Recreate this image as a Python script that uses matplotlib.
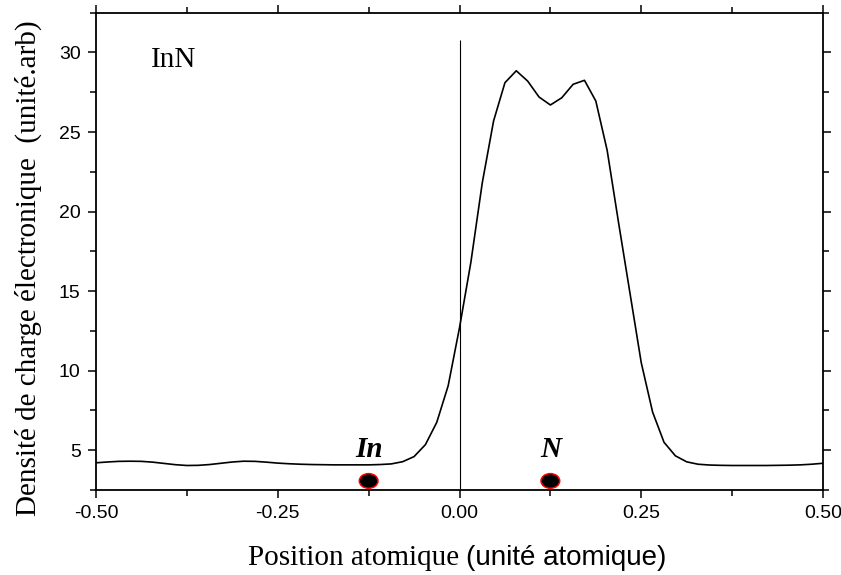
import matplotlib.pyplot as plt
from matplotlib.patches import Ellipse

# positions atomiques (pas de 1/64)
position = [-0.5, -0.4844, -0.4688, -0.4531, -0.4375, -0.4219, -0.4063, -0.3906,
            -0.375, -0.3594, -0.3438, -0.3281, -0.3125, -0.2969, -0.2813, -0.2656,
            -0.25, -0.2344, -0.2188, -0.2031, -0.1875, -0.1719, -0.1563, -0.1406,
            -0.125, -0.1094, -0.0938, -0.0781, -0.0625, -0.0469, -0.0313, -0.0156,
            0.0, 0.0156, 0.0313, 0.0469, 0.0625, 0.0781, 0.0938, 0.1094,
            0.125, 0.1406, 0.1563, 0.1719, 0.1875, 0.2031, 0.2188, 0.2344,
            0.25, 0.2656, 0.2813, 0.2969, 0.3125, 0.3281, 0.3438, 0.3594,
            0.375, 0.3906, 0.4063, 0.4219, 0.4375, 0.4531, 0.4688, 0.4844, 0.5]

densite = [4.21, 4.26, 4.30, 4.31, 4.30, 4.25, 4.17, 4.09,
           4.04, 4.05, 4.10, 4.18, 4.26, 4.31, 4.30, 4.25,
           4.19, 4.15, 4.12, 4.10, 4.09, 4.08, 4.08, 4.08,
           4.08, 4.10, 4.14, 4.28, 4.60, 5.35, 6.75, 9.05,
           12.7, 16.8, 21.8, 25.7, 28.1, 28.85, 28.2, 27.2,
           26.7, 27.15, 28.0, 28.25, 26.95, 23.85, 19.3, 14.9,
           10.5, 7.4, 5.5, 4.65, 4.27, 4.12, 4.07, 4.05,
           4.04, 4.04, 4.04, 4.04, 4.05, 4.06, 4.08, 4.12, 4.18]

atomes = ["In", "N"]
pos_atomes = [-0.125, 0.125]

serif = "Liberation Serif"
sans = "Liberation Sans"

fig = plt.figure(figsize=(8.41, 5.75), dpi=100)
ax = fig.add_axes([96 / 841, 1 - 490 / 575, 727 / 841, 477.3 / 575])

ax.plot(position, densite, color="black", linewidth=1.2)
ax.vlines(0, 2.55, 30.8, color="black", linewidth=0.8)

for nom, xa in zip(atomes, pos_atomes):
    ax.add_patch(Ellipse((xa, 3.07), 0.0257, 0.92, facecolor="black",
                         edgecolor="red", linewidth=1.1, zorder=3))
    ax.text(xa, 4.6, nom, ha="center", va="baseline", fontsize=21,
            family=serif, fontweight="bold", fontstyle="italic")

ax.text(-0.425, 29.08, "InN", ha="left", va="baseline", fontsize=21, family=serif)

ax.set_xlim(-0.5, 0.5)
ax.set_ylim(2.55, 32.5)
ax.set_xticks([-0.5, -0.25, 0, 0.25, 0.5])
ax.set_xticklabels(["-0.50", "-0.25", "0.00", "0.25", "0.50"])
ax.set_xticks([-0.375, -0.125, 0.125, 0.375], minor=True)
ax.set_yticks([5, 10, 15, 20, 25, 30])
ax.set_yticks([2.5, 7.5, 12.5, 17.5, 22.5, 27.5, 32.5], minor=True)

ax.tick_params(which="both", direction="out", top=True, right=True,
               width=1.1, labelsize=14, pad=5)
ax.tick_params(which="major", length=6)
ax.tick_params(which="minor", length=4)
for lab in ax.get_xticklabels() + ax.get_yticklabels():
    lab.set_family(sans)
for sp in ax.spines.values():
    sp.set_linewidth(1.3)

fig.text(28 / 841, 1 - 268 / 575, "Densité de charge électronique  (unité.arb)",
         rotation=90, ha="center", va="center", fontsize=21, family=serif)

t1 = fig.text(248 / 841, 1 - 565 / 575, "Position atomique ", ha="left",
              va="baseline", fontsize=21, family=serif)
fig.canvas.draw()
bb = t1.get_window_extent()
fig.text(bb.x1 / 841, 1 - 565 / 575, "(unité atomique)", ha="left",
         va="baseline", fontsize=20, family=sans)

fig.savefig("out.png", dpi=100)
